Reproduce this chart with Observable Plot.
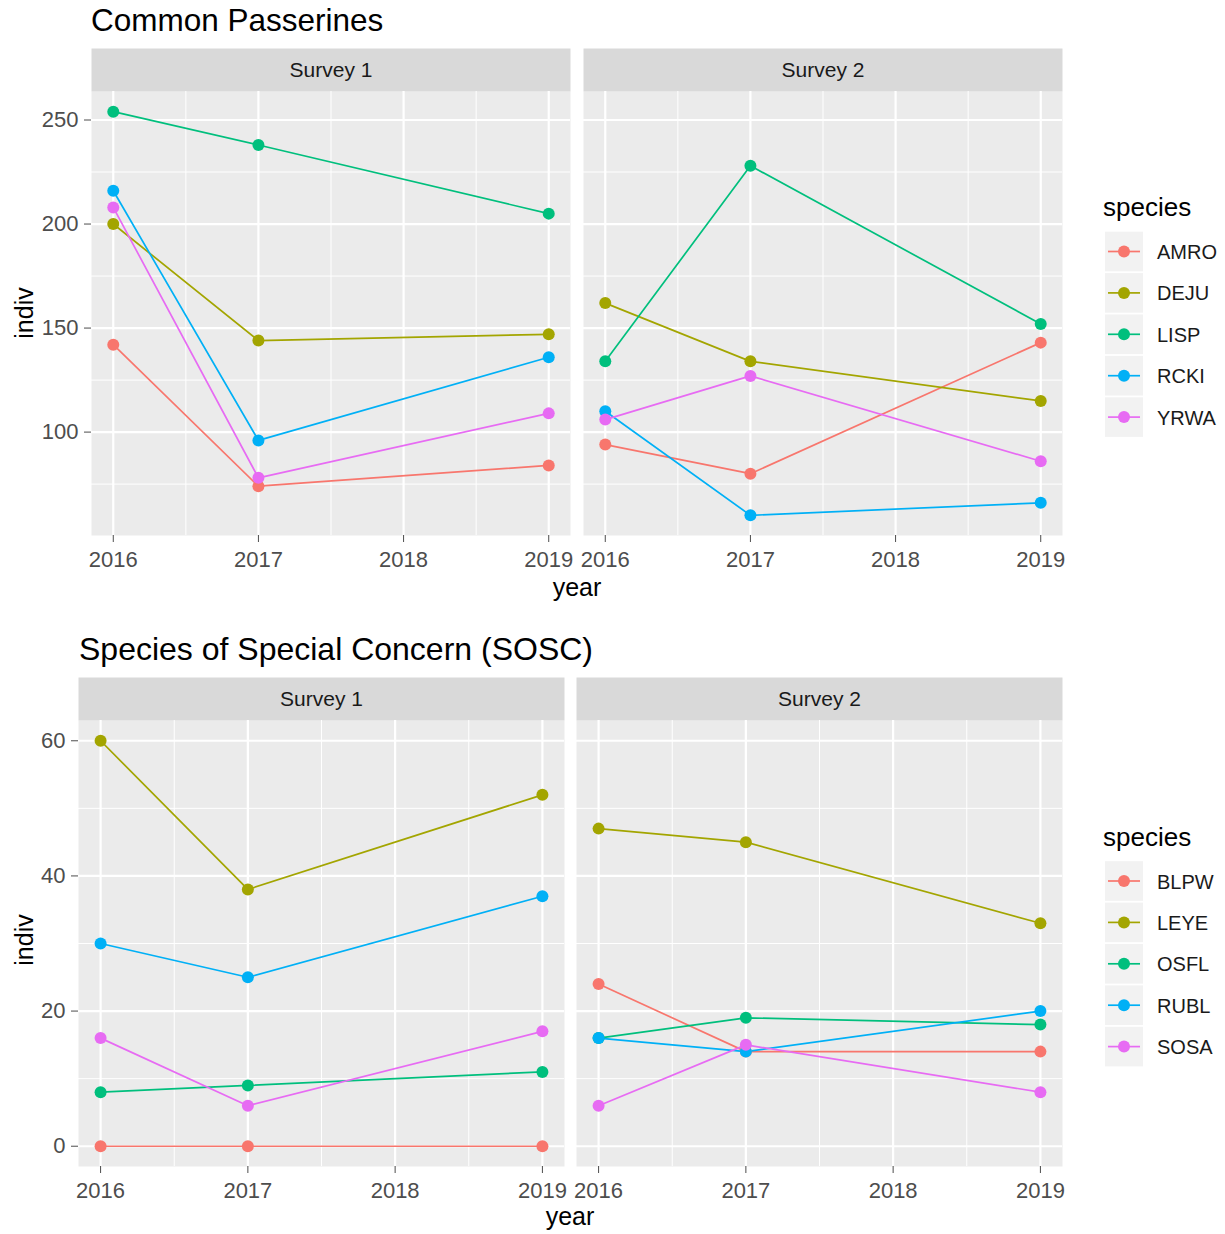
<!DOCTYPE html>
<html><head><meta charset="utf-8">
<script src="https://cdn.jsdelivr.net/npm/d3@7"></script>
<script src="https://cdn.jsdelivr.net/npm/@observablehq/plot@0.6"></script>
<style>
body{margin:0;background:#fff;font-family:"Liberation Sans",Arial,sans-serif;}
#root{position:relative;width:1225px;height:1234px;overflow:hidden;background:#fff;}
.abs{position:absolute;white-space:nowrap;line-height:1;}
#root svg{position:absolute;}
</style></head><body><div id="root"></div>
<script>
// ---- data ----
const years = [2016, 2017, 2019];
const xTicks = [2016, 2017, 2018, 2019];
const xMinor = [2016.5, 2017.5, 2018.5];
const surveys = ["Survey 1", "Survey 2"];
const colors = ["#F8766D", "#A3A500", "#00BF7D", "#00B0F6", "#E76BF3"];

const passerineSpecies = ["AMRO", "DEJU", "LISP", "RCKI", "YRWA"];
const passerineSurvey1 = [[142, 74, 84], [200, 144, 147], [254, 238, 205], [216, 96, 136], [208, 78, 109]];
const passerineSurvey2 = [[94, 80, 143], [162, 134, 115], [134, 228, 152], [110, 60, 66], [106, 127, 86]];
const passerineYTicks = [100, 150, 200, 250];
const passerineYMinor = [75, 125, 175, 225];

const soscSpecies = ["BLPW", "LEYE", "OSFL", "RUBL", "SOSA"];
const soscSurvey1 = [[0, 0, 0], [60, 38, 52], [8, 9, 11], [30, 25, 37], [16, 6, 17]];
const soscSurvey2 = [[24, 14, 14], [47, 45, 33], [16, 19, 18], [16, 14, 20], [6, 15, 8]];
const soscYTicks = [0, 20, 40, 60];
const soscYMinor = [10, 30, 50];

// ---- helpers ----
function rows(species, s1, s2) {
  const out = [];
  [s1, s2].forEach((tbl, si) => tbl.forEach((vals, i) => vals.forEach((v, j) =>
    out.push({survey: surveys[si], species: species[i], year: years[j], indiv: v}))));
  return out;
}
function expand(ext, f = 0.05) { const r = ext[1] - ext[0]; return [ext[0] - r * f, ext[1] + r * f]; }

const root = document.getElementById("root");
function addText(txt, left, top, size, color, extra = "") {
  const d = document.createElement("div");
  d.className = "abs";
  d.textContent = txt;
  d.style.cssText += `left:${left}px;top:${top}px;font-size:${size}px;color:${color};${extra}`;
  root.appendChild(d);
  return d;
}

function chart({data, species, yTicks, yMinor, marginLeft, top, marginTop, panelH, marginBottom, gap}) {
  const width = 1090, right = 1063;
  const range = right - marginLeft;
  const p = 2 * gap / (range + gap);
  const svg = Plot.plot({
    width, height: marginTop + panelH + marginBottom,
    marginLeft, marginRight: width - right, marginTop, marginBottom,
    style: {fontFamily: "'Liberation Sans', Arial, sans-serif", background: "transparent", overflow: "visible"},
    fx: {domain: surveys, paddingInner: p, paddingOuter: 0, axis: null, label: null},
    x: {domain: expand([2016, 2019]), label: null},
    y: {domain: expand(d3.extent(data, d => d.indiv)), label: null},
    color: {domain: species, range: colors},
    marks: [
      Plot.frame({fill: "#EBEBEB"}),
      Plot.frame({fill: "#D9D9D9", insetTop: -43, insetBottom: panelH}),
      Plot.text(surveys, {fx: d => d, text: d => d, frameAnchor: "top", dy: -21, fontSize: 21, fill: "#1A1A1A", lineAnchor: "middle"}),
      Plot.gridX(xMinor, {stroke: "white", strokeOpacity: 1, strokeWidth: 1}),
      Plot.gridY(yMinor, {stroke: "white", strokeOpacity: 1, strokeWidth: 1}),
      Plot.gridX(xTicks, {stroke: "white", strokeOpacity: 1, strokeWidth: 2.2}),
      Plot.gridY(yTicks, {stroke: "white", strokeOpacity: 1, strokeWidth: 2.2}),
      Plot.line(data, {fx: "survey", x: "year", y: "indiv", z: "species", stroke: "species", strokeWidth: 1.7}),
      Plot.dot(data, {fx: "survey", x: "year", y: "indiv", fill: "species", r: 6}),
      Plot.axisX(xTicks, {tickFormat: "d", tickSize: 7, tickPadding: 9, fontSize: 22, color: "#4D4D4D", label: null}),
      Plot.axisY(yTicks, {tickSize: 7, tickPadding: 6, fontSize: 22, color: "#4D4D4D", label: null})
    ]
  });
  svg.style.left = "0px";
  svg.style.top = top + "px";
  root.appendChild(svg);
}

function legend({species, left, top, titleBaseline, firstCenter}) {
  const W = 130, H = 270;
  const svg = d3.create("svg").attr("width", W).attr("height", H)
    .style("left", left + "px").style("top", top + "px")
    .style("font-family", "'Liberation Sans', Arial, sans-serif");
  svg.append("text").attr("x", 8).attr("y", titleBaseline - top).attr("font-size", 26).attr("fill", "#000").text("species");
  const step = 41.4;
  species.forEach((s, i) => {
    const cy = firstCenter - top + i * step;
    const g = svg.append("g");
    g.append("rect").attr("x", 10).attr("y", cy - 19.8).attr("width", 38).attr("height", 39.6).attr("fill", "#F2F2F2");
    g.append("line").attr("x1", 13).attr("x2", 45).attr("y1", cy).attr("y2", cy).attr("stroke", colors[i]).attr("stroke-width", 1.7);
    g.append("circle").attr("cx", 29).attr("cy", cy).attr("r", 6).attr("fill", colors[i]);
    g.append("text").attr("x", 62).attr("y", cy + 7.5).attr("font-size", 20).attr("fill", "#1A1A1A").text(s);
  });
  root.appendChild(svg.node());
}

// ---- top chart ----
addText("Common Passerines", 91, 5, 31.5, "#000");
chart({data: rows(passerineSpecies, passerineSurvey1, passerineSurvey2), species: passerineSpecies,
  yTicks: passerineYTicks, yMinor: passerineYMinor, marginLeft: 91, top: 40, marginTop: 51, panelH: 444, marginBottom: 45, gap: 13});
addText("year", 577, 575, 25, "#000", "transform:translateX(-50%);");
addText("indiv", 24, 313, 25, "#000", "transform:translate(-50%,-50%) rotate(-90deg);");
legend({species: passerineSpecies, left: 1095, top: 180, titleBaseline: 216, firstCenter: 251.5});

// ---- bottom chart ----
addText("Species of Special Concern (SOSC)", 79, 633, 32, "#000");
chart({data: rows(soscSpecies, soscSurvey1, soscSurvey2), species: soscSpecies,
  yTicks: soscYTicks, yMinor: soscYMinor, marginLeft: 78, top: 670, marginTop: 50, panelH: 446, marginBottom: 40, gap: 12});
addText("year", 570, 1204, 25, "#000", "transform:translateX(-50%);");
addText("indiv", 24, 940, 25, "#000", "transform:translate(-50%,-50%) rotate(-90deg);");
legend({species: soscSpecies, left: 1095, top: 810, titleBaseline: 846, firstCenter: 881});
</script></body></html>
